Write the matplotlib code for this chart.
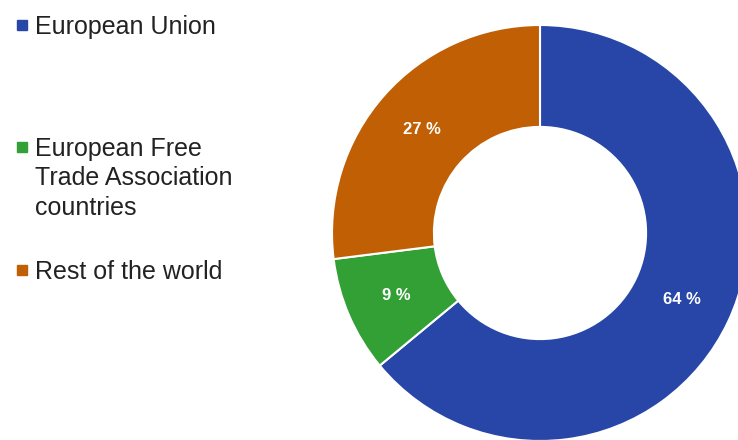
import matplotlib.pyplot as plt
from matplotlib.patches import Rectangle

categories = ['European Union', 'European Free\nTrade Association\ncountries', 'Rest of the world']
shares = [64, 9, 27]
colors = ['#2846a8', '#33a035', '#c05f04']
legend_top_px = [15, 137, 260]

W, H = 738, 440
fig = plt.figure(figsize=(W / 100, H / 100), dpi=100)

# donut: center (540, 233) px from top-left, outer radius 208 px
cx, cy, r = 540, 233, 208
ax = fig.add_axes([(cx - r) / W, (H - cy - r) / H, 2 * r / W, 2 * r / H])
wedges, texts, autotexts = ax.pie(
    shares, colors=colors, startangle=90, counterclock=False,
    autopct=lambda p: f'{p:.0f} %', pctdistance=0.755,
    wedgeprops=dict(width=0.49, edgecolor='white', linewidth=1.5))
for t in autotexts:
    t.set_color('white')
    t.set_fontweight('bold')
    t.set_fontsize(12)
    t.set_family(['Liberation Sans Narrow', 'Liberation Sans', 'DejaVu Sans'])
ax.set_xlim(-1, 1)
ax.set_ylim(-1, 1)
ax.axis('off')

# legend drawn by hand on the left
for lab, col, top in zip(categories, colors, legend_top_px):
    fig.patches.append(Rectangle((17 / W, 1 - (top + 15) / H), 10 / W, 10 / H,
                                 transform=fig.transFigure, color=col))
    fig.text(35 / W, 1 - top / H, lab, ha='left', va='top', fontsize=18,
             family=['Liberation Sans', 'DejaVu Sans'], color='#222222',
             linespacing=1.28)

fig.savefig('out.png', dpi=100)
